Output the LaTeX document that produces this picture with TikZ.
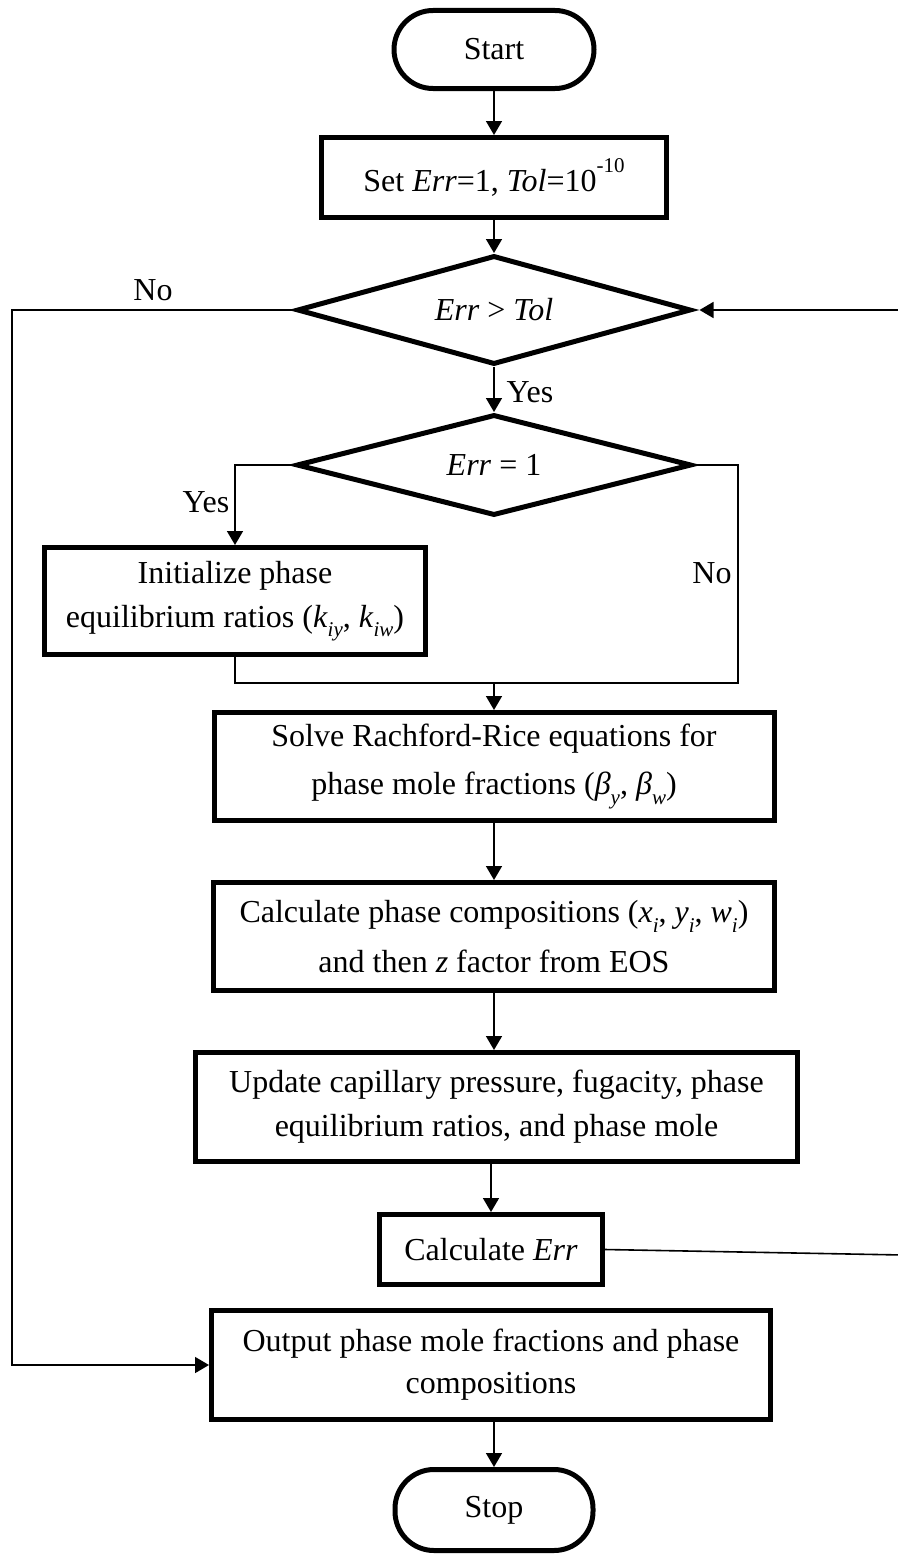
\documentclass[tikz,border=0pt]{standalone}
\usepackage{fontspec}
\setmainfont{Liberation Serif}
\usetikzlibrary{arrows.meta,shapes.geometric}
% lowered italic subscript and raised superscript, set in a smaller size
\newcommand{\lowsub}[1]{\raisebox{-0.3em}{\fontsize{21}{21}\selectfont\textit{#1}}}
\newcommand{\highsup}[1]{\raisebox{0.6em}{\fontsize{21}{21}\selectfont #1}}
\begin{document}
\begin{tikzpicture}[x=1pt,y=-1pt,
  every node/.style={font=\fontsize{32}{44}\selectfont, inner sep=0pt},
  box/.style={draw, line width=5pt, rectangle, align=center},
  term/.style={draw, line width=5pt, rectangle, rounded corners=39pt},
  decision/.style={draw, line width=5pt, diamond, shape aspect=3.5},
  conn/.style={line width=1.6pt},
  arr/.style={conn, -{Triangle[length=14pt,width=16pt]}}
]
\useasboundingbox (0,0) rectangle (897,1555);

% main column
\node[term, minimum width=200pt, minimum height=78pt] (start) at (494,49.5) {Start};
\node[box, minimum width=345pt, minimum height=80pt] (set) at (494,177.5)
  {Set \textit{Err}=1, \textit{Tol}=10\highsup{-10}};
\node[decision, minimum width=394pt, minimum height=109pt] (d1) at (494,310)
  {\textit{Err} > \textit{Tol}};
\node[decision, minimum width=395pt, minimum height=101pt] (d2) at (494,465)
  {\textit{Err} = 1};
\node[box, minimum width=381pt, minimum height=107pt] (init) at (235,601)
  {Initialize phase\\equilibrium ratios (\textit{k}\lowsub{iy}, \textit{k}\lowsub{iw})};
\node[box, minimum width=560pt, minimum height=108pt, font=\fontsize{32}{48}\selectfont] (solve) at (494,766.5)
  {Solve Rachford-Rice equations for\\phase mole fractions (\textit{β}\lowsub{y}, \textit{β}\lowsub{w})};
\node[box, minimum width=561pt, minimum height=108pt, font=\fontsize{32}{50}\selectfont] (calc) at (494,936.5)
  {Calculate phase compositions (\textit{x}\lowsub{i}, \textit{y}\lowsub{i}, \textit{w}\lowsub{i})\\and then \textit{z} factor from EOS};
\node[box, minimum width=602pt, minimum height=109pt] (update) at (496.5,1107)
  {Update capillary pressure, fugacity, phase\\equilibrium ratios, and phase mole};
\node[box, minimum width=223pt, minimum height=70pt] (cerr) at (491,1249.5)
  {Calculate \textit{Err}};
\node[box, minimum width=559pt, minimum height=109pt, font=\fontsize{32}{42}\selectfont] (out) at (491,1365)
  {Output phase mole fractions and phase\\compositions};
\node[term, minimum width=198pt, minimum height=81pt] (stop) at (494,1510) {Stop};

% labels
\node (no1) at (153,290) {No};
\node (yes1) at (530,392) {Yes};
\node (yes2) at (206,502) {Yes};
\node (no2) at (712,573) {No};

% routing points
\coordinate (lx) at (12,0);
\coordinate (jl) at (235,683);
\coordinate (jr) at (738,683);
\coordinate (j) at (494,683);
\coordinate (rb) at (903,1255);
\coordinate (rt) at (903,310);

% straight flow
\draw[arr] (start.south) -- (set.north);
\draw[arr] (set.south) -- (d1.north);
\draw[arr] (d1.south) -- (d2.north);
\draw[arr] (solve.south) -- (solve.south |- calc.north);
\draw[arr] (calc.south) -- (calc.south |- update.north);
\draw[arr] (update.south -| cerr.north) -- (cerr.north);
\draw[arr] (out.south -| stop.north) -- (stop.north);

% Err = 1 branches
\draw[arr] (d2.west) -| (init.north);
\draw[conn] (d2.east) -| (jr) -- (jl) -- (init.south);
\draw[arr] (j) -- (j |- solve.north);

% exit on No
\draw[arr] (d1.west) -- (d1.west -| lx) |- (out.west);

% loop back from the error check
\draw[arr] (cerr.east) -- (rb) -- (rt) -- ([xshift=6pt]d1.east);
\end{tikzpicture}
\end{document}
